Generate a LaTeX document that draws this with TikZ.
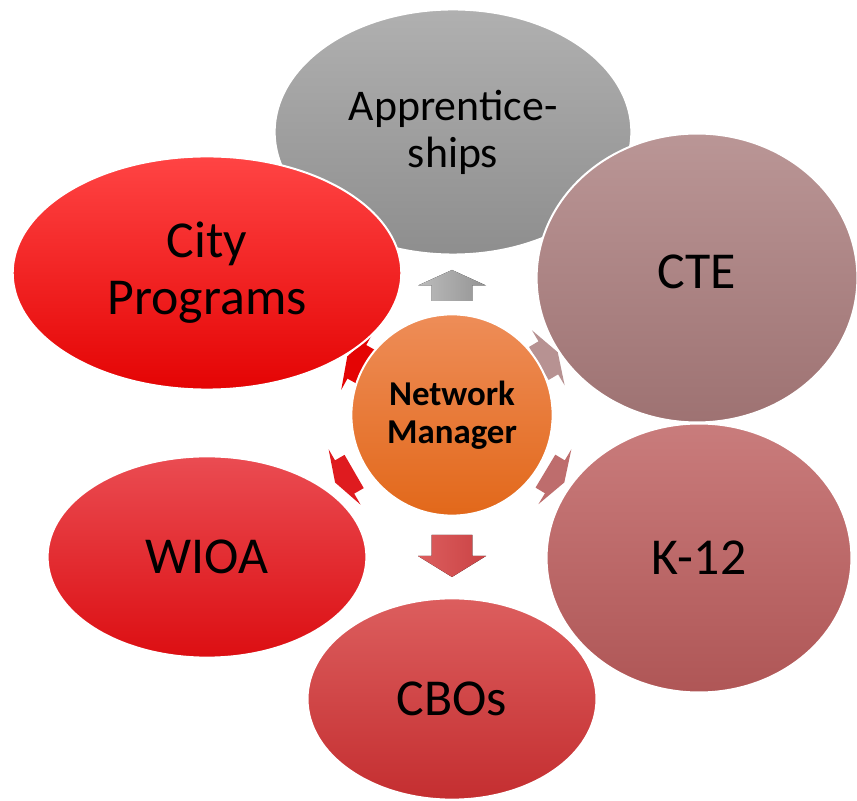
\documentclass[tikz,border=0pt]{standalone}
\usepackage{fontspec}
\setmainfont{Carlito}
\usetikzlibrary{shapes.geometric}

% colours of the bubbles (top / bottom of the gradient)
\definecolor{apprTop}{HTML}{B0B0B0}
\definecolor{apprBot}{HTML}{8E8E8E}
\definecolor{cityTop}{HTML}{FF4444}
\definecolor{cityMid}{HTML}{FF0000}
\definecolor{cityBot}{HTML}{E40404}
\definecolor{cteTop}{HTML}{BA9696}
\definecolor{cteBot}{HTML}{9E7272}
\definecolor{kTop}{HTML}{C97C7C}
\definecolor{kBot}{HTML}{AF5656}
\definecolor{wioaTop}{HTML}{EA4C52}
\definecolor{wioaBot}{HTML}{DC0E12}
\definecolor{cboTop}{HTML}{DC5E5E}
\definecolor{cboBot}{HTML}{C42E30}
\definecolor{hubTop}{HTML}{EE8D58}
\definecolor{hubMid}{HTML}{F37B22}
\definecolor{hubBot}{HTML}{E2681A}

% block arrow pointing away from the hub
% #1 angle, #2 distance of head base, #3 length, #4 head half width, #5 fill
\newcommand{\spoke}[5]{%
  \fill[#5, shift={(hubc)}, rotate=#1]
    ({#2-#3/2},{0.6*#4}) -- (#2,{0.6*#4}) -- (#2,#4) -- ({#2+#3/2},0)
    -- (#2,-#4) -- (#2,{-0.6*#4}) -- ({#2-#3/2},{-0.6*#4}) -- cycle;}

\begin{document}
\begin{tikzpicture}[x=1bp,y=1bp]
% ---------------------------------------------------------
% Dimensions
% ---------------------------------------------------------
\def\HubR{101}      % radius of the hub
\def\DiagL{22}      % length of the slanted arrows
\def\DiagW{32}      % head half width of the slanted arrows

% ---------------------------------------------------------
% Styles
% ---------------------------------------------------------
\tikzset{
  bubble/.style={ellipse, draw=white, line width=2bp, inner sep=0pt,
    align=center, text=black},
  big text/.style={font=\fontsize{52}{57}\selectfont},
  small text/.style={font=\fontsize{44}{47}\selectfont},
  hub text/.style={font=\bfseries\fontsize{35}{38}\selectfont}
}

\useasboundingbox (0,0) rectangle (857,801);
\fill[white] (0,0) rectangle (857,801);

\coordinate (hubc) at (452,386);

% =========================================================
% 1) ARROWS (under the bubbles)
% =========================================================
\spoke{90}{129.5}{31}{34}{left color=apprTop!85!white, right color=apprBot!95!white}
\spoke{-90}{141}{42}{34}{left color=cboTop, right color=cboBot!90!white}
\spoke{150.8}{109}{\DiagL}{\DiagW}{cityBot}
\spoke{30.7}{112}{\DiagL}{\DiagW}{cteTop!90!cteBot}
\spoke{-31}{120}{\DiagL}{\DiagW}{kTop!60!kBot}
\spoke{-150}{124}{\DiagL}{\DiagW}{wioaBot!80!wioaTop}

% =========================================================
% 2) BUBBLES
% =========================================================
\node[bubble, small text, minimum width=358, minimum height=246,
  top color=apprTop, bottom color=apprBot] (appr) at (453,669)
  {Apprentice-\\ships};

\node[bubble, big text, text depth=12bp, minimum width=322, minimum height=290,
  top color=cteTop, bottom color=cteBot] (cte) at (697,523) {CTE};

\node[bubble, big text, minimum width=306, minimum height=270,
  top color=kTop, bottom color=kBot] (k12) at (699,243) {K-12};

\node[bubble, big text, minimum width=290, minimum height=202,
  top color=cboTop, bottom color=cboBot] (cbos) at (452,102) {CBOs};

\node[bubble, big text, minimum width=320, minimum height=202,
  top color=wioaTop, bottom color=wioaBot] (wioa) at (207,244) {WIOA};

\node[bubble, big text, minimum width=390, minimum height=234,
  top color=cityTop, middle color=cityMid, bottom color=cityBot]
  (city) at (207,528) {City\\Programs};

% =========================================================
% 3) HUB
% =========================================================
\node[circle, draw=white, line width=2bp, inner sep=0pt,
  minimum size={2*\HubR}, align=center, hub text,
  top color=hubTop, middle color=hubMid, bottom color=hubBot]
  (hub) at (hubc) {Network\\Manager};

\end{tikzpicture}
\end{document}
